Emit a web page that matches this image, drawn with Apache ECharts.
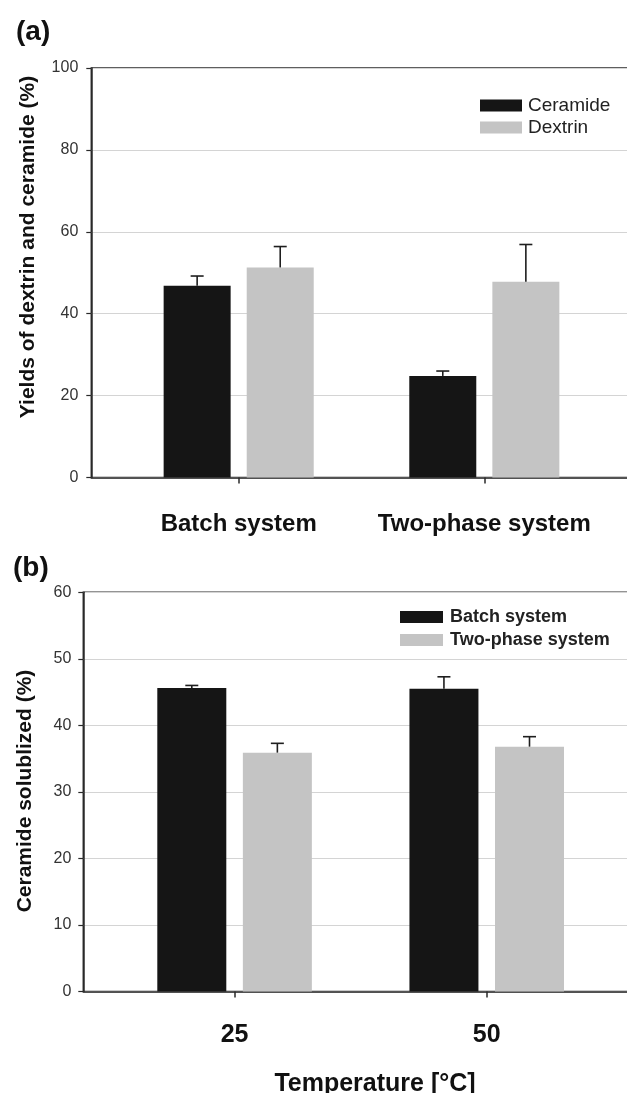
<!DOCTYPE html>
<html>
<head>
<meta charset="utf-8">
<script src="https://cdn.jsdelivr.net/npm/echarts@6/dist/echarts.min.js"></script>
<style>
html,body{margin:0;padding:0;background:#fff;}
#chart{width:627px;height:1093px;}
</style>
</head>
<body>
<div id="chart"></div>
<script>
// ---------- data ----------
const categoriesA = ['Batch system', 'Two-phase system'];
const ceramideA = [46.8, 24.8];
const ceramideErrA = [2.4, 1.2];
const dextrinA = [51.3, 47.8];
const dextrinErrA = [5.1, 9.1];
const yTicksA = [0, 20, 40, 60, 80, 100];

const categoriesB = ['25', '50'];
const batchB = [45.6, 45.5];
const batchErrB = [0.4, 1.8];
const twoPhaseB = [35.9, 36.8];
const twoPhaseErrB = [1.4, 1.5];
const yTicksB = [0, 10, 20, 30, 40, 50, 60];

// ---------- style ----------
const BLACK = '#151515';
const GRAY = '#c4c4c4';
const AXIS = '#2a2a2a';
const GRID = '#d4d4d4';
const SANS = "'Liberation Sans',Arial,Helvetica,sans-serif";
const BAR_W_A = 67, BAR_W_B = 69, GAP = 0.24;

const pos = arr => arr.map((_, i) => i + 1);
const pairs = (vals) => vals.map((v, i) => [i + 1, v]);
const triples = (vals, errs) => vals.map((v, i) => [i + 1, v, errs[i]]);

function errRender(side, barW) {
  return function (params, api) {
    const x = api.value(0), v = api.value(1), e = api.value(2);
    const b = api.coord([x, v]);
    const t = api.coord([x, v + e]);
    const cx = b[0] + side * barW * (1 + GAP) / 2;
    const st = {stroke: '#1e1e1e', lineWidth: 1.6};
    return {type: 'group', children: [
      {type: 'line', shape: {x1: cx, y1: b[1], x2: cx, y2: t[1]}, style: st},
      {type: 'line', shape: {x1: cx - 6.5, y1: t[1], x2: cx + 6.5, y2: t[1]}, style: st}
    ]};
  };
}

function xAxisCfg(gridIndex, cats, labelSize, margin) {
  return {
    type: 'value', gridIndex, min: 0.4, max: 2.6,
    axisLine: {show: true, lineStyle: {color: AXIS, width: 1.5}},
    axisTick: {show: true, customValues: pos(cats), length: 6, lineStyle: {color: AXIS, width: 1.5}},
    axisLabel: {show: true, customValues: pos(cats), margin,
      formatter: v => cats[Math.round(v) - 1] || '',
      fontFamily: SANS, fontWeight: 'bold', fontSize: labelSize, color: '#111'},
    splitLine: {show: false}
  };
}
function yAxisCfg(gridIndex, ticks, margin) {
  const step = ticks[1] - ticks[0];
  return {
    type: 'value', gridIndex, min: ticks[0], max: ticks[ticks.length - 1], interval: step,
    axisLine: {show: true, lineStyle: {color: AXIS, width: 1.5}},
    axisTick: {show: true, inside: false, length: 5, lineStyle: {color: AXIS, width: 1.2}},
    axisLabel: {margin, fontFamily: SANS, fontSize: 16, color: '#333'},
    splitLine: {show: true, lineStyle: {color: GRID, width: 1.2}}
  };
}

const chart = echarts.init(document.getElementById('chart'), null, {renderer: 'canvas'});
chart.setOption({
  backgroundColor: '#fff',
  animation: false,
  title: [
    {text: '(a)', left: 11, top: 13, textStyle: {fontFamily: SANS, fontWeight: 'bold', fontSize: 28, color: '#111'}},
    {text: '(b)', left: 8, top: 549, textStyle: {fontFamily: SANS, fontWeight: 'bold', fontSize: 28, color: '#111'}},
    {text: 'Temperature [°C]', left: 370, top: 1067, textAlign: 'center',
      textStyle: {fontFamily: SANS, fontWeight: 'bold', fontSize: 25, color: '#111'}}
  ],
  graphic: [
    {type: 'text', x: 28, y: 247, rotation: Math.PI / 2,
      style: {text: 'Yields of dextrin and ceramide (%)', font: "bold 21px 'Liberation Sans', Arial, sans-serif",
        fill: '#111', align: 'center', verticalAlign: 'middle', textAlign: 'center', textVerticalAlign: 'middle'}},
    {type: 'text', x: 25, y: 791, rotation: Math.PI / 2,
      style: {text: 'Ceramide solublized (%)', font: "bold 21px 'Liberation Sans', Arial, sans-serif",
        fill: '#111', align: 'center', verticalAlign: 'middle', textAlign: 'center', textVerticalAlign: 'middle'}}
  ],
  legend: [
    {data: ['Ceramide', 'Dextrin'], orient: 'vertical', left: 475, top: 91, icon: 'rect',
      itemWidth: 42, itemHeight: 12, itemGap: 3,
      textStyle: {fontFamily: SANS, fontSize: 19, color: '#222', padding: [0, 0, 0, 1]}},
    {data: ['Batch system', 'Two-phase system'], orient: 'vertical', left: 395, top: 603, icon: 'rect',
      itemWidth: 43, itemHeight: 12, itemGap: 5,
      textStyle: {fontFamily: SANS, fontWeight: 'bold', fontSize: 18, color: '#222', padding: [0, 0, 0, 2]}}
  ],
  grid: [
    {left: 91.3, top: 68, right: -4.7, height: 409.5, show: true, borderColor: AXIS, borderWidth: 1.5,
      backgroundColor: 'transparent', containLabel: false, outerBoundsMode: 'none'},
    {left: 83.3, top: 592.3, right: -11, height: 399.2, show: true, borderColor: AXIS, borderWidth: 1.5,
      backgroundColor: 'transparent', containLabel: false, outerBoundsMode: 'none'}
  ],
  xAxis: [xAxisCfg(0, categoriesA, 24, 35), xAxisCfg(1, categoriesB, 25, 31)],
  yAxis: [yAxisCfg(0, yTicksA, 13), yAxisCfg(1, yTicksB, 12)],
  series: [
    {name: 'Ceramide', type: 'bar', xAxisIndex: 0, yAxisIndex: 0, data: pairs(ceramideA),
      barWidth: BAR_W_A, barGap: (GAP * 100) + '%', itemStyle: {color: BLACK}},
    {name: 'Dextrin', type: 'bar', xAxisIndex: 0, yAxisIndex: 0, data: pairs(dextrinA),
      barWidth: BAR_W_A, barGap: (GAP * 100) + '%', itemStyle: {color: GRAY}},
    {name: 'errCer', type: 'custom', xAxisIndex: 0, yAxisIndex: 0, data: triples(ceramideA, ceramideErrA),
      encode: {x: 0, y: 1}, renderItem: errRender(-1, BAR_W_A), z: 5},
    {name: 'errDex', type: 'custom', xAxisIndex: 0, yAxisIndex: 0, data: triples(dextrinA, dextrinErrA),
      encode: {x: 0, y: 1}, renderItem: errRender(1, BAR_W_A), z: 5},

    {name: 'Batch system', type: 'bar', xAxisIndex: 1, yAxisIndex: 1, data: pairs(batchB),
      barWidth: BAR_W_B, barGap: (GAP * 100) + '%', itemStyle: {color: BLACK}},
    {name: 'Two-phase system', type: 'bar', xAxisIndex: 1, yAxisIndex: 1, data: pairs(twoPhaseB),
      barWidth: BAR_W_B, barGap: (GAP * 100) + '%', itemStyle: {color: GRAY}},
    {name: 'errBatch', type: 'custom', xAxisIndex: 1, yAxisIndex: 1, data: triples(batchB, batchErrB),
      encode: {x: 0, y: 1}, renderItem: errRender(-1, BAR_W_B), z: 5},
    {name: 'errTwo', type: 'custom', xAxisIndex: 1, yAxisIndex: 1, data: triples(twoPhaseB, twoPhaseErrB),
      encode: {x: 0, y: 1}, renderItem: errRender(1, BAR_W_B), z: 5}
  ]
});
</script>
</body>
</html>
